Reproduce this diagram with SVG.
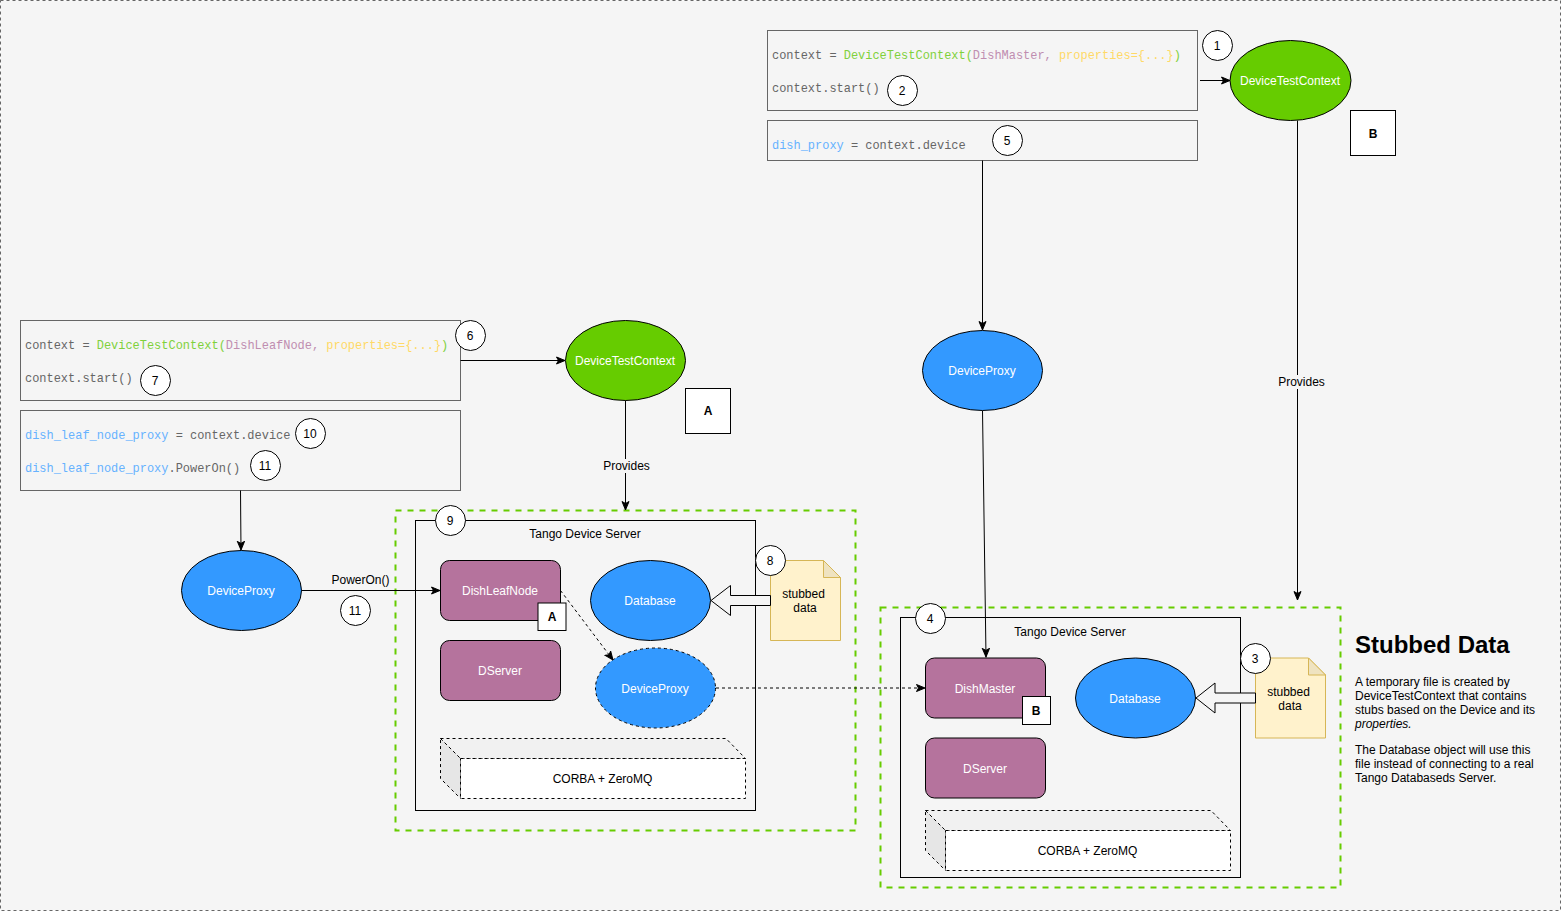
<svg xmlns="http://www.w3.org/2000/svg" width="1561" height="911" viewBox="0 0 1561 911">
<style>
text{font-family:"Liberation Sans",Arial,sans-serif;font-size:12px;fill:#000}
.c{text-anchor:middle}
.w{fill:#fff;text-anchor:middle}
.code{font-family:"Liberation Mono","Courier New",monospace;font-size:11.96px;fill:#666;white-space:pre}
.g{fill:#7FD13B}.p{fill:#C08DB0}.y{fill:#FFD966}.b{fill:#66B2FF}
.box{fill:none;stroke:#666;stroke-width:1}
.zone{fill:none;stroke:#66CC00;stroke-width:2;stroke-dasharray:6 6}
.srv{fill:none;stroke:#000;stroke-width:1}
.num{fill:#fff;stroke:#000;stroke-width:1}
.green{fill:#66CC00;stroke:#000}
.blue{fill:#3399FF;stroke:#000}
.pur{fill:#B5739D;stroke:#000}
.tag{fill:#fff;stroke:#000}
.tagb{font-weight:bold;text-anchor:middle;font-size:12px}
.note{fill:#FFF2CC;stroke:#D6B656}
.fold{fill:#EFE3C0;stroke:#D6B656}
.flex{fill:#f5f5f5;stroke:#000}
.dash{stroke-dasharray:3 3}
.ln{fill:none;stroke:#000;stroke-width:1}
.lbl{fill:#f5f5f5;stroke:none}
</style>
<defs>
<marker id="a" markerUnits="userSpaceOnUse" markerWidth="12" markerHeight="10" refX="9" refY="4.5" orient="auto"><path d="M0.5 1L9 4.5L0.5 8L2.5 4.5Z" fill="#000" stroke="#000"/></marker>
</defs>
<rect x="0.5" y="0.5" width="1560" height="910" fill="#f5f5f5" stroke="#666" stroke-dasharray="3 3"/>

<g id="zone-a"><rect class="zone" x="395.5" y="510.5" width="460" height="320"/></g>
<g id="zone-b"><rect class="zone" x="880.5" y="607.5" width="460" height="280"/></g>
<g id="server-a"><rect class="srv" x="415.5" y="520.5" width="340" height="290"/><text class="c" x="585" y="538">Tango Device Server</text></g>
<g id="server-b"><rect class="srv" x="900.5" y="617.5" width="340" height="260"/><text class="c" x="1070" y="636">Tango Device Server</text></g>

<g id="code-1"><rect class="box" x="767.5" y="30.5" width="430" height="80"/>
<text class="code" x="772" y="58.5">context = <tspan class="g">DeviceTestContext(</tspan><tspan class="p">DishMaster, </tspan><tspan class="y">properties={...}</tspan><tspan class="g">)</tspan></text>
<text class="code" x="772" y="91.5">context.start()</text></g>
<g id="code-2"><rect class="box" x="767.5" y="120.5" width="430" height="40"/>
<text class="code" x="772" y="148.5"><tspan class="b">dish_proxy</tspan> = context.device</text></g>
<g id="code-3"><rect class="box" x="20.5" y="320.5" width="440" height="80"/>
<text class="code" x="25" y="348.5">context = <tspan class="g">DeviceTestContext(</tspan><tspan class="p">DishLeafNode, </tspan><tspan class="y">properties={...}</tspan><tspan class="g">)</tspan></text>
<text class="code" x="25" y="381.5">context.start()</text></g>
<g id="code-4"><rect class="box" x="20.5" y="410.5" width="440" height="80"/>
<text class="code" x="25" y="438.5"><tspan class="b">dish_leaf_node_proxy</tspan> = context.device</text>
<text class="code" x="25" y="471.5"><tspan class="b">dish_leaf_node_proxy</tspan>.PowerOn()</text></g>

<g id="connectors">
<path class="ln" marker-end="url(#a)" d="M1200 80.5H1230"/>
<path class="ln" marker-end="url(#a)" d="M982.5 160.5V330"/>
<path class="ln" marker-end="url(#a)" d="M460.5 360.5H565"/>
<path class="ln" marker-end="url(#a)" d="M625.5 400.5V510"/>
<path class="ln" marker-end="url(#a)" d="M1297.5 120.5V600"/>
<path class="ln" marker-end="url(#a)" d="M240.5 490.5L241 550"/>
<path class="ln" marker-end="url(#a)" d="M301 590.5H440"/>
<path class="ln" marker-end="url(#a)" d="M982.5 410.5L986 657"/>
<path class="ln dash" marker-end="url(#a)" d="M560.5 590.5L613 660"/>
<path class="ln dash" marker-end="url(#a)" d="M716 688H925"/>
<rect class="lbl" x="603" y="459" width="47" height="14"/><text class="c" x="626.5" y="470">Provides</text>
<rect class="lbl" x="1278" y="375" width="47" height="14"/><text class="c" x="1301.5" y="386">Provides</text>
<text class="c" x="360.5" y="584">PowerOn()</text>
</g>

<g id="context-b"><ellipse class="green" cx="1290.5" cy="80.5" rx="60.5" ry="40"/><text class="w" x="1290" y="85">DeviceTestContext</text></g>
<g id="context-a"><ellipse class="green" cx="625.5" cy="360.5" rx="60" ry="40"/><text class="w" x="625" y="365">DeviceTestContext</text></g>
<g id="proxy-b"><ellipse class="blue" cx="982.5" cy="370.5" rx="60" ry="40"/><text class="w" x="982" y="375">DeviceProxy</text></g>
<g id="proxy-a"><ellipse class="blue" cx="241.5" cy="590.5" rx="60" ry="40"/><text class="w" x="241" y="595">DeviceProxy</text></g>
<g id="tag-big-a"><rect class="tag" x="685.5" y="388.5" width="45" height="45"/><text class="tagb" x="708" y="415">A</text></g>
<g id="tag-big-b"><rect class="tag" x="1350.5" y="110.5" width="45" height="45"/><text class="tagb" x="1373" y="138">B</text></g>

<g id="dishleafnode"><rect class="pur" x="440.5" y="560.5" width="120" height="60" rx="9"/><text class="w" x="500" y="595">DishLeafNode</text></g>
<g id="tag-a"><rect class="tag" x="538" y="603" width="28" height="27.5"/><text class="tagb" x="552" y="621">A</text></g>
<g id="dserver-a"><rect class="pur" x="440.5" y="640.5" width="120" height="60" rx="9"/><text class="w" x="500" y="675">DServer</text></g>
<g id="database-a"><ellipse class="blue" cx="650.5" cy="600.5" rx="60" ry="40"/><text class="w" x="650" y="605">Database</text></g>
<g id="remote-proxy"><ellipse class="blue dash" cx="655.5" cy="688" rx="60" ry="40"/><text class="w" x="655" y="693">DeviceProxy</text></g>
<g id="corba-a"><path d="M440.5 738.5H726L745.5 758.5H460.5Z" fill="#f1f1f1" stroke="#000" stroke-dasharray="3 3"/><path d="M440.5 738.5L460.5 758.5V798.5L440.5 778.5Z" fill="#e6e6e6" stroke="#000" stroke-dasharray="3 3"/><rect x="460.5" y="758.5" width="285" height="40" fill="#fff" stroke="#000" stroke-dasharray="3 3"/><text class="c" x="602.5" y="783">CORBA + ZeroMQ</text></g>
<g id="note-a"><path class="note" d="M770.5 560.5H823.5L840.5 577.5V640.5H770.5Z"/><path class="fold" d="M823.5 560.5L840.5 577.5H823.5Z"/><text class="c" x="803.5" y="598">stubbed</text><text class="c" x="805" y="612">data</text></g>
<g id="flow-a"><path class="flex" d="M770.5 595.5H730.5V585.5L711 600.5L730.5 615.5V605.5H770.5Z"/></g>

<g id="dishmaster"><rect class="pur" x="925.5" y="658" width="120" height="60" rx="9"/><text class="w" x="985" y="693">DishMaster</text></g>
<g id="tag-b"><rect class="tag" x="1022.5" y="696.5" width="28" height="28"/><text class="tagb" x="1036" y="715">B</text></g>
<g id="dserver-b"><rect class="pur" x="925.5" y="738" width="120" height="60" rx="9"/><text class="w" x="985" y="773">DServer</text></g>
<g id="database-b"><ellipse class="blue" cx="1135.5" cy="698" rx="60" ry="40"/><text class="w" x="1135" y="703">Database</text></g>
<g id="corba-b"><path d="M925.5 810.5H1211L1230.5 830.5H945.5Z" fill="#f1f1f1" stroke="#000" stroke-dasharray="3 3"/><path d="M925.5 810.5L945.5 830.5V870.5L925.5 850.5Z" fill="#e6e6e6" stroke="#000" stroke-dasharray="3 3"/><rect x="945.5" y="830.5" width="285" height="40" fill="#fff" stroke="#000" stroke-dasharray="3 3"/><text class="c" x="1087.5" y="855">CORBA + ZeroMQ</text></g>
<g id="note-b"><path class="note" d="M1255.5 658H1308.5L1325.5 675V738H1255.5Z"/><path class="fold" d="M1308.5 658L1325.5 675H1308.5Z"/><text class="c" x="1288.5" y="696">stubbed</text><text class="c" x="1290" y="710">data</text></g>
<g id="flow-b"><path class="flex" d="M1255.5 693H1215V683L1196 698L1215 713V703H1255.5Z"/></g>

<g id="n1"><circle class="num" cx="1217.5" cy="45.5" r="15"/><text class="c" x="1217" y="50">1</text></g>
<g id="n2"><circle class="num" cx="902.5" cy="90.5" r="15"/><text class="c" x="902" y="95">2</text></g>
<g id="n3"><circle class="num" cx="1255.5" cy="658.5" r="15"/><text class="c" x="1255" y="663">3</text></g>
<g id="n4"><circle class="num" cx="930.5" cy="618.5" r="15"/><text class="c" x="930" y="623">4</text></g>
<g id="n5"><circle class="num" cx="1007.5" cy="140.5" r="15"/><text class="c" x="1007" y="145">5</text></g>
<g id="n6"><circle class="num" cx="470.5" cy="335.5" r="15"/><text class="c" x="470" y="340">6</text></g>
<g id="n7"><circle class="num" cx="155.5" cy="380.5" r="15"/><text class="c" x="155" y="385">7</text></g>
<g id="n8"><circle class="num" cx="770.5" cy="560.5" r="15"/><text class="c" x="770" y="565">8</text></g>
<g id="n9"><circle class="num" cx="450.5" cy="520.5" r="15"/><text class="c" x="450" y="525">9</text></g>
<g id="n10"><circle class="num" cx="310.5" cy="433.5" r="15"/><text class="c" x="310" y="438">10</text></g>
<g id="n11a"><circle class="num" cx="265.5" cy="465.5" r="15"/><text class="c" x="265" y="470">11</text></g>
<g id="n11b"><circle class="num" cx="355.5" cy="610.5" r="15"/><text class="c" x="355" y="615">11</text></g>

<g id="stubbed-text">
<text x="1355" y="653" style="font-size:24px;font-weight:bold">Stubbed Data</text>
<text x="1355" y="686">A temporary file is created by</text>
<text x="1355" y="700">DeviceTestContext that contains</text>
<text x="1355" y="714">stubs based on the Device and its</text>
<text x="1355" y="728" font-style="italic">properties.</text>
<text x="1355" y="754">The Database object will use this</text>
<text x="1355" y="768">file instead of connecting to a real</text>
<text x="1355" y="782">Tango Databaseds Server.</text>
</g>
</svg>
